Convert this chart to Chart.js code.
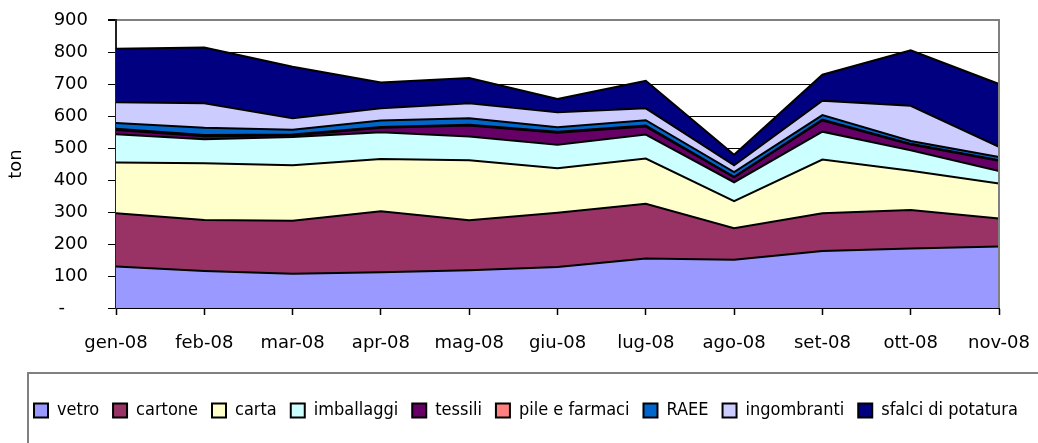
<!DOCTYPE html>
<html>
<head>
<meta charset="utf-8">
<script src="https://cdn.jsdelivr.net/npm/chart.js@4/dist/chart.umd.min.js"></script>
<style>
  html, body { margin: 0; padding: 0; background: #ffffff; }
  #wrap { width: 1038px; height: 443px; position: relative; }
</style>
</head>
<body>
<div id="wrap"><canvas id="chart"></canvas></div>
<script>
// Monthly collected waste by material (tonnes), stacked
const months = ['gen-08', 'feb-08', 'mar-08', 'apr-08', 'mag-08', 'giu-08', 'lug-08', 'ago-08', 'set-08', 'ott-08', 'nov-08'];
const vetro       = [130, 116, 107, 112, 118, 128, 155, 151, 178, 186, 192];
const cartone     = [166, 159, 166, 190, 156, 170, 171,  98, 118, 120,  88];
const carta       = [159, 177, 173, 164, 188, 139, 141,  85, 168, 123, 109];
const imballaggi  = [ 88,  75,  88,  83,  74,  73,  75,  59,  87,  64,  39];
const tessili     = [ 13,  10,   5,  14,  34,  38,  25,  15,  35,  18,  32];
const pileFarmaci = [  4,   4,   3,   3,   3,   3,   3,   2,   3,   2,   2];
const raee        = [ 18,  22,  15,  20,  20,  14,  17,  15,  14,   9,  10];
const ingombranti = [ 65,  77,  36,  38,  47,  47,  37,  21,  45, 110,  32];
const sfalci      = [167, 174, 161,  81,  79,  41,  86,  33,  81, 173, 196];
const yTicks      = [0, 100, 200, 300, 400, 500, 600, 700, 800, 900];

const series = [
  { label: 'vetro',              data: vetro,       color: '#9999FF' },
  { label: 'cartone',            data: cartone,     color: '#993366' },
  { label: 'carta',              data: carta,       color: '#FFFFCC' },
  { label: 'imballaggi',         data: imballaggi,  color: '#CCFFFF' },
  { label: 'tessili',            data: tessili,     color: '#660066' },
  { label: 'pile e farmaci',     data: pileFarmaci, color: '#FF8080' },
  { label: 'RAEE',               data: raee,        color: '#0066CC' },
  { label: 'ingombranti',        data: ingombranti, color: '#CCCCFF' },
  { label: 'sfalci di potatura', data: sfalci,      color: '#000080' }
];

const axisFont = { family: '"DejaVu Sans", Verdana, sans-serif', size: 18 };
const legendFont = { family: '"DejaVu Sans Condensed", "DejaVu Sans", sans-serif', size: 18 };

// Frame: grey right edge of the plot area and the box around the legend
const frame = {
  id: 'frame',
  afterDatasetsDraw(chart) {
    const { ctx, chartArea } = chart;
    ctx.save();
    ctx.strokeStyle = '#808080';
    ctx.lineWidth = 2;
    ctx.beginPath();
    ctx.moveTo(chartArea.right, chartArea.top - 1);
    ctx.lineTo(chartArea.right, chartArea.bottom);
    ctx.stroke();
    ctx.restore();
  },
  afterDraw(chart) {
    const { ctx } = chart;
    ctx.save();
    ctx.strokeStyle = '#808080';
    ctx.lineWidth = 2;
    ctx.strokeRect(28, 373, 1100, 120);
    ctx.restore();
  }
};

new Chart(document.getElementById('chart'), {
  type: 'line',
  data: {
    labels: months,
    datasets: series.map((s, i) => ({
      label: s.label,
      data: s.data,
      backgroundColor: s.color,
      borderColor: '#000000',
      borderWidth: 2,
      fill: i === 0 ? 'origin' : '-1',
      pointRadius: 0,
      pointHoverRadius: 0,
      tension: 0
    }))
  },
  options: {
    responsive: true,
    maintainAspectRatio: false,
    devicePixelRatio: 1,
    animation: false,
    events: [],
    layout: { autoPadding: false, padding: { left: 20, right: -20, top: 20, bottom: 13.5 } },
    plugins: {
      tooltip: { enabled: false },
      legend: {
        display: true,
        position: 'bottom',
        align: 'start',
        labels: {
          boxWidth: 14,
          boxHeight: 14,
          padding: 14,
          color: '#000000',
          font: legendFont
        }
      }
    },
    scales: {
      x: {
        type: 'category',
        offset: false,
        grid: {
          display: true,
          drawOnChartArea: false,
          drawTicks: true,
          tickLength: 7,
          tickColor: '#000000',
          tickWidth: 1.5
        },
        border: { display: true, color: '#000000', width: 2 },
        ticks: {
          color: '#000000',
          font: axisFont,
          padding: 18,
          autoSkip: false,
          maxRotation: 0,
          minRotation: 0
        },
        afterFit(scale) {
          scale.height = 79.5;
          scale.paddingLeft = 0;
          scale.paddingRight = 0;
        }
      },
      y: {
        stacked: true,
        min: 0,
        max: 900,
        afterBuildTicks(scale) { scale.ticks = yTicks.map(v => ({ value: v })); },
        ticks: {
          color: '#000000',
          font: axisFont,
          padding: 20,
          callback: (v) => (v === 0 ? '-    ' : String(v))
        },
        grid: {
          display: true,
          drawTicks: true,
          tickLength: 8,
          tickColor: '#000000',
          color: (c) => (c.tick && c.tick.value === 900 ? '#808080' : '#000000'),
          lineWidth: (c) => (c.tick && c.tick.value === 900 ? 2 : 1)
        },
        border: { display: true, color: '#222222', width: 2 },
        title: {
          display: true,
          text: 'ton',
          color: '#000000',
          font: axisFont,
          padding: { top: -14, bottom: 0 }
        },
        afterFit(scale) {
          scale.width = 96;
          scale.paddingTop = 0;
          scale.paddingBottom = 0;
        }
      },
      yRight: {
        position: 'right',
        display: true,
        grid: { display: false },
        border: { display: false },
        ticks: { display: false },
        afterFit(scale) {
          scale.width = 59;
          scale.paddingTop = 0;
          scale.paddingBottom = 0;
        }
      }
    }
  },
  plugins: [frame]
});
</script>
</body>
</html>
